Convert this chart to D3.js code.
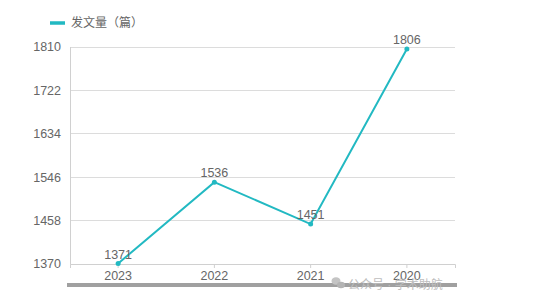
<!DOCTYPE html>
<html><head><meta charset="utf-8">
<script src="https://cdn.jsdelivr.net/npm/d3@7/dist/d3.min.js"></script>
<style>body{margin:0;background:#fff;}svg{display:block;font-family:"Liberation Sans",Arial,"Noto Sans CJK SC",sans-serif;}</style>
</head><body><svg id="c" width="538" height="308"></svg>
<script>
const categories = ["2023","2022","2021","2020"];
const values = [1371,1536,1451,1806];
const yTicks = [1370,1458,1546,1634,1722,1810];
const seriesName = "发文量（篇）";
const color = "#22b9c2";

const svg = d3.select("#c");
const x = d3.scaleBand().domain(categories).range([70,455]);
const y = d3.scaleLinear().domain([1370,1810]).range([264,47]);

// grid
svg.append("g").selectAll("line").data(yTicks).join("line")
  .attr("x1",70).attr("x2",455).attr("y1",d=>y(d)).attr("y2",d=>y(d))
  .attr("stroke","#dcdcdc").attr("stroke-width",1).attr("shape-rendering","crispEdges");
// y axis line
svg.append("line").attr("x1",70).attr("x2",70).attr("y1",y(1810)).attr("y2",y(1370))
  .attr("stroke","#d0d0d0").attr("shape-rendering","crispEdges");
// y labels
svg.append("g").selectAll("text").data(yTicks).join("text")
  .attr("x",61).attr("y",d=>y(d)).attr("dy","0.35em").attr("text-anchor","end")
  .attr("font-size",12.5).attr("fill","#666").text(d=>d);
// x axis
const xa = svg.append("g").attr("transform","translate(0,264)")
  .call(d3.axisBottom(x).tickSize(4).tickPadding(3));
xa.select(".domain").attr("stroke","#d0d0d0");
xa.selectAll(".tick line").attr("stroke","#d0d0d0");
xa.selectAll(".tick text").attr("font-size",12.5).attr("fill","#666");

const cx = d=>x(d)+x.bandwidth()/2;
const data = categories.map((c,i)=>({c,v:values[i]}));
svg.append("path").datum(data)
  .attr("d",d3.line().x(d=>cx(d.c)).y(d=>y(d.v)))
  .attr("fill","none").attr("stroke",color).attr("stroke-width",2);
svg.append("g").selectAll("circle").data(data).join("circle")
  .attr("cx",d=>cx(d.c)).attr("cy",d=>y(d.v)).attr("r",2.5).attr("fill",color);
svg.append("g").selectAll("text").data(data).join("text")
  .attr("x",d=>cx(d.c)).attr("y",d=>y(d.v)-5).attr("text-anchor","middle")
  .attr("font-size",12.5).attr("fill","#666").text(d=>d.v);

// legend
svg.append("line").attr("x1",50).attr("x2",65).attr("y1",23).attr("y2",23)
  .attr("stroke",color).attr("stroke-width",3.5);
svg.append("text").attr("x",71).attr("y",23).attr("dy","0.35em")
  .attr("font-size",12).attr("fill","#666").text(seriesName);

// bottom bar
svg.append("rect").attr("x",67).attr("y",283).attr("width",390).attr("height",4)
  .attr("fill","#a0a0a0");
// watermark (drawn over the bar)
const wm = svg.append("g");
wm.append("ellipse").attr("cx",336).attr("cy",281).attr("rx",4.5).attr("ry",3.8).attr("fill","#c4c4c4");
wm.append("ellipse").attr("cx",341).attr("cy",285).attr("rx",4).attr("ry",3.3).attr("fill","#b4b4b4");
wm.append("text").attr("x",348).attr("y",289).attr("font-size",12)
  .attr("fill","#bdbdbd").text("公众号 · 学术助航");
</script></body></html>
